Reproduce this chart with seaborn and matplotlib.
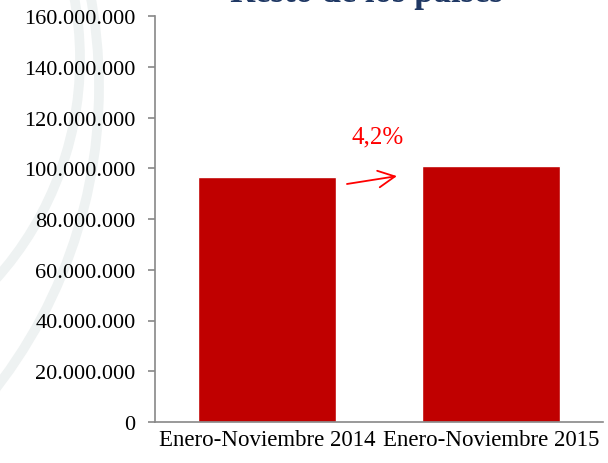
import matplotlib
matplotlib.use("Agg")
import matplotlib.pyplot as plt
from matplotlib.patches import Circle
from matplotlib.ticker import FuncFormatter
import pandas as pd
import seaborn as sns

periodos = ["Enero-Noviembre 2014", "Enero-Noviembre 2015"]
valores = [96700000, 100800000]
crecimiento = "4,2%"
titulo = "Resto de los países"

df = pd.DataFrame({"periodo": periodos, "valor": valores})

sns.set_theme(style="white")
plt.rcParams["font.family"] = ["Liberation Serif", "DejaVu Serif"]

W, H = 608, 464
fig = plt.figure(figsize=(W / 100, H / 100), dpi=100)
fig.patch.set_facecolor("white")

# marca de agua de fondo (arcos gris muy claro), en píxeles desde arriba-izquierda
for cx, cy, r in [(-393, 88, 492), (-250, 60, 330)]:
    fig.patches.append(Circle((cx, H - cy), r, transform=None, fill=False,
                              edgecolor="#eef2f2", lw=7, zorder=-1))

ax = fig.add_axes([155 / W, 1 - 423 / H, 448 / W, 406 / H])
ax.patch.set_alpha(0)
sns.barplot(data=df, x="periodo", y="valor", color="#c00000", saturation=1,
            width=0.62, ax=ax)

ax.set_ylim(0, 160000000)
ax.set_xlim(-0.5, 1.5)
ax.set_yticks(range(0, 160000001, 20000000))
ax.yaxis.set_major_formatter(FuncFormatter(lambda v, p: f"{int(v):,}".replace(",", ".")))
ax.set_xlabel("")
ax.set_ylabel("")
ax.set_xticks([-0.5, 0.5, 1.5], minor=True)
ax.tick_params(axis="x", which="major", length=0, labelsize=16.5, pad=5, labelcolor="black")
ax.tick_params(axis="x", which="minor", length=5, width=1.2, color="#888888", direction="out")
ax.tick_params(axis="y", length=5, width=1.2, color="#888888", labelsize=16, pad=9,
               labelcolor="black", left=True)
for s in ["top", "right"]:
    ax.spines[s].set_visible(False)
for s in ["left", "bottom"]:
    ax.spines[s].set_color("#888888")
    ax.spines[s].set_linewidth(1.2)

ax.annotate("", xy=(0.58, 96900000), xytext=(0.357, 93800000),
            arrowprops=dict(arrowstyle="->", color="red", lw=1.3, mutation_scale=30,
                            shrinkA=0, shrinkB=0))
ax.text(0.496, 112700000, crecimiento, color="red", fontsize=18, ha="center", va="center")

fig.text(367 / W, 1 - 2 / H, titulo, color="#1f3864", fontsize=25, fontweight="bold",
         ha="center", va="baseline")

fig.savefig("out.png", dpi=100)
